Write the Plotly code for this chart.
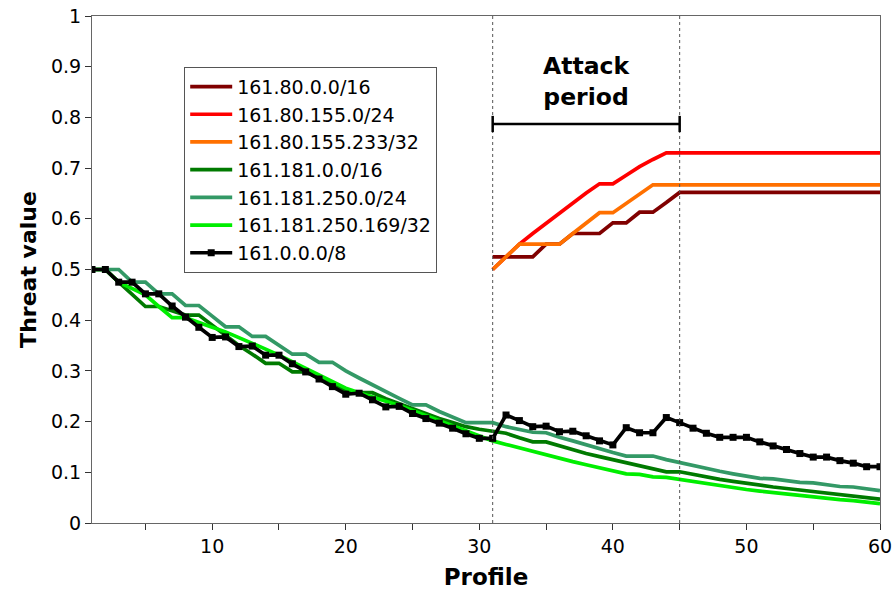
import plotly.graph_objects as go

profile = list(range(1, 61))
attack_profile = list(range(31, 61))

net_161_80_16 = [0.525, 0.525, 0.525, 0.525, 0.55, 0.55, 0.571, 0.571, 0.571, 0.592,
                 0.592, 0.613, 0.613, 0.632, 0.652, 0.652, 0.652, 0.652, 0.652, 0.652,
                 0.652, 0.652, 0.652, 0.652, 0.652, 0.652, 0.652, 0.652, 0.652, 0.652]
net_161_80_155_24 = [0.5, 0.525, 0.55, 0.571, 0.591, 0.611, 0.632, 0.651, 0.669, 0.669,
                     0.686, 0.703, 0.717, 0.73, 0.73, 0.73, 0.73, 0.73, 0.73, 0.73,
                     0.73, 0.73, 0.73, 0.73, 0.73, 0.73, 0.73, 0.73, 0.73, 0.73]
host_161_80_155_233 = [0.5, 0.525, 0.55, 0.55, 0.55, 0.55, 0.571, 0.592, 0.612, 0.612,
                       0.63, 0.649, 0.667, 0.667, 0.667, 0.667, 0.667, 0.667, 0.667, 0.667,
                       0.667, 0.667, 0.667, 0.667, 0.667, 0.667, 0.667, 0.667, 0.667, 0.667]

net_161_181_16 = [0.5, 0.5, 0.475, 0.45, 0.427, 0.427, 0.418, 0.41, 0.41, 0.39,
                  0.37, 0.35, 0.333, 0.315, 0.315, 0.298, 0.298, 0.285, 0.272, 0.26,
                  0.257, 0.257, 0.245, 0.235, 0.225, 0.215, 0.206, 0.198, 0.19, 0.185,
                  0.181, 0.177, 0.168, 0.16, 0.16, 0.152, 0.144, 0.137, 0.131, 0.125,
                  0.119, 0.113, 0.107, 0.101, 0.101, 0.096, 0.09, 0.086, 0.082, 0.078,
                  0.075, 0.071, 0.068, 0.065, 0.062, 0.059, 0.056, 0.053, 0.05, 0.047]
net_161_181_250_24 = [0.5, 0.5, 0.5, 0.475, 0.475, 0.452, 0.452, 0.429, 0.429, 0.408,
                      0.387, 0.387, 0.368, 0.368, 0.35, 0.333, 0.333, 0.317, 0.317, 0.3,
                      0.286, 0.272, 0.259, 0.246, 0.233, 0.233, 0.22, 0.209, 0.198, 0.198,
                      0.198, 0.19, 0.185, 0.179, 0.178, 0.169, 0.162, 0.154, 0.146, 0.139,
                      0.132, 0.132, 0.132, 0.125, 0.119, 0.113, 0.107, 0.102, 0.097, 0.092,
                      0.088, 0.087, 0.083, 0.08, 0.079, 0.075, 0.072, 0.071, 0.068, 0.064]
host_161_181_250_169 = [0.5, 0.5, 0.475, 0.463, 0.45, 0.427, 0.405, 0.405, 0.395, 0.386,
                        0.377, 0.366, 0.355, 0.343, 0.331, 0.318, 0.304, 0.29, 0.278, 0.266,
                        0.257, 0.249, 0.241, 0.232, 0.222, 0.212, 0.202, 0.192, 0.181, 0.171,
                        0.162, 0.155, 0.148, 0.141, 0.134, 0.127, 0.121, 0.115, 0.109, 0.103,
                        0.097, 0.096, 0.091, 0.09, 0.086, 0.082, 0.077, 0.073, 0.07, 0.066,
                        0.063, 0.06, 0.057, 0.054, 0.052, 0.049, 0.046, 0.044, 0.041, 0.038]
net_161_8 = [0.5, 0.5, 0.475, 0.475, 0.452, 0.452, 0.428, 0.406, 0.386, 0.366,
             0.367, 0.348, 0.349, 0.331, 0.331, 0.314, 0.298, 0.284, 0.269, 0.254,
             0.256, 0.243, 0.229, 0.23, 0.216, 0.206, 0.197, 0.187, 0.176, 0.167,
             0.167, 0.213, 0.202, 0.19, 0.191, 0.18, 0.181, 0.172, 0.162, 0.154,
             0.188, 0.178, 0.178, 0.208, 0.198, 0.187, 0.177, 0.169, 0.169, 0.169,
             0.16, 0.152, 0.145, 0.137, 0.13, 0.13, 0.123, 0.118, 0.111, 0.111]

attack_start, attack_end = 31, 45

FONT = "DejaVu Sans"
fig = go.Figure()

series = [
    ("161.80.0.0/16", attack_profile, net_161_80_16, "#800000"),
    ("161.80.155.0/24", attack_profile, net_161_80_155_24, "#ff0000"),
    ("161.80.155.233/32", attack_profile, host_161_80_155_233, "#ff7000"),
    ("161.181.0.0/16", profile, net_161_181_16, "#007a00"),
    ("161.181.250.0/24", profile, net_161_181_250_24, "#339966"),
    ("161.181.250.169/32", profile, host_161_181_250_169, "#00ee00"),
]
for name, xs, ys, col in series:
    fig.add_trace(go.Scatter(x=xs, y=ys, name=name, mode="lines",
                             line=dict(color=col, width=3.7)))
fig.add_trace(go.Scatter(x=profile, y=net_161_8, name="161.0.0.0/8", mode="lines+markers",
                         line=dict(color="black", width=3.7),
                         marker=dict(symbol="square", size=7, color="black")))

for xv in (attack_start, attack_end):
    fig.add_shape(type="line", x0=xv, x1=xv, y0=0, y1=1, xref="x", yref="y",
                  line=dict(color="#555555", width=1, dash="dot"))

bracket_y = 0.787
fig.add_shape(type="line", x0=attack_start, x1=attack_end, y0=bracket_y, y1=bracket_y,
              line=dict(color="black", width=2.5))
for xv in (attack_start, attack_end):
    fig.add_shape(type="line", x0=xv, x1=xv, y0=bracket_y - 0.016, y1=bracket_y + 0.016,
                  line=dict(color="black", width=2.5))

fig.add_annotation(x=(attack_start + attack_end) / 2, y=0.871, xref="x", yref="y",
                   text="<b>Attack<br>period</b>", showarrow=False,
                   font=dict(family=FONT, size=23.5, color="black"))

fig.update_layout(
    width=894, height=595,
    margin=dict(l=92, r=14, t=16, b=72),
    paper_bgcolor="white", plot_bgcolor="white",
    font=dict(family=FONT, size=19, color="black"),
    showlegend=True,
    legend=dict(x=0.117, y=0.9, xanchor="left", yanchor="top",
                bgcolor="white", bordercolor="#555555", borderwidth=1,
                font=dict(family=FONT, size=19, color="black"),
                itemwidth=42, tracegroupgap=0),
)
fig.update_xaxes(range=[1, 60], tick0=0, dtick=10, ticks="outside", ticklen=6,
                 tickcolor="#333333", showline=True, linecolor="#666666", linewidth=1,
                 mirror=True, showgrid=False, zeroline=False, automargin=False,
                 ticklabeloverflow="allow",
                 minor=dict(dtick=5, tick0=0, ticks="outside", ticklen=6, tickcolor="#333333"),
                 tickfont=dict(family=FONT, size=19),
                 title=dict(text="<b>Profile</b>", font=dict(family=FONT, size=23), standoff=13))
fig.update_yaxes(range=[0, 1], dtick=0.1, ticks="outside", ticklen=6,
                 tickcolor="#333333", showline=True, linecolor="#666666", linewidth=1,
                 mirror=True, showgrid=False, zeroline=False, automargin=False,
                 ticklabeloverflow="allow",
                 tickfont=dict(family=FONT, size=19),
                 title=dict(text="<b>Threat value</b>", font=dict(family=FONT, size=22), standoff=8))

fig.write_html("out.html", config={"displayModeBar": False},
               post_script="document.body.style.margin='0';")
